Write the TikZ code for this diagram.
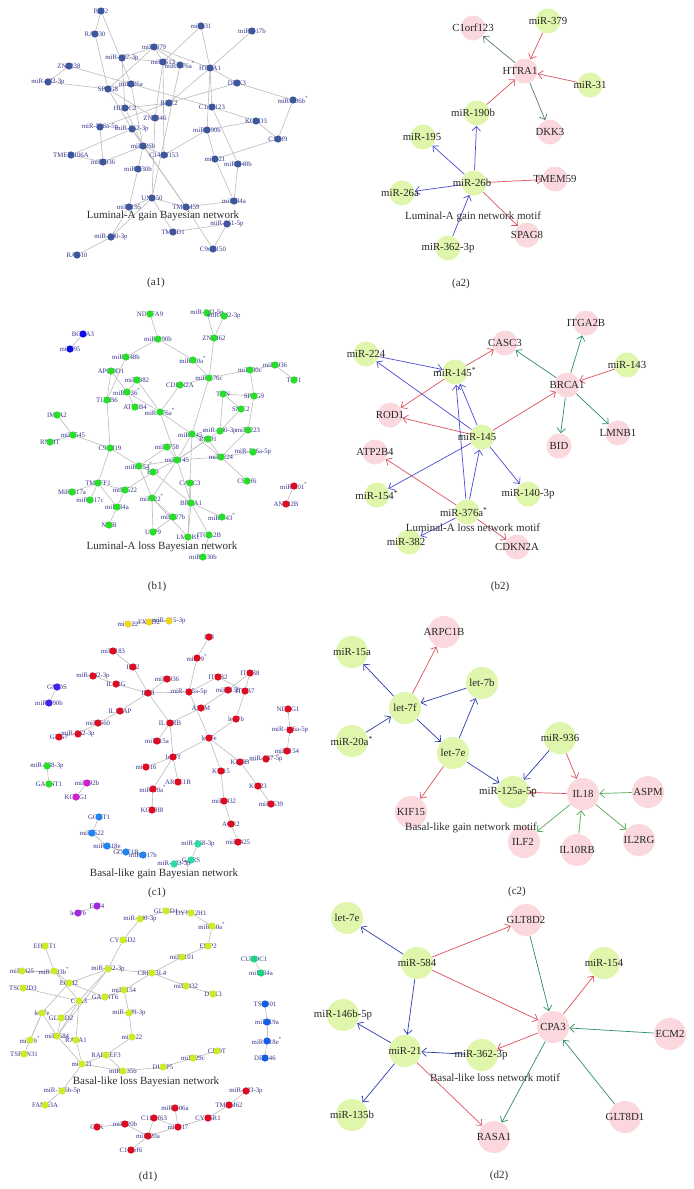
\documentclass[tikz,border=0pt]{standalone}
\usepackage{fontspec}
\setmainfont{Liberation Serif}
\usetikzlibrary{arrows.meta}
\pgfdeclarelayer{paper}
\pgfdeclarelayer{bg}
\pgfsetlayers{paper,bg,main}
\definecolor{edgegray}{RGB}{188,188,188}
\definecolor{labnavy}{RGB}{52,52,140}
\definecolor{steelb}{RGB}{62,86,156}
\definecolor{dgreen}{RGB}{40,222,40}
\definecolor{dblue}{RGB}{12,12,228}
\definecolor{dred}{RGB}{222,12,32}
\definecolor{dyellow}{RGB}{240,212,34}
\definecolor{dviolet}{RGB}{70,32,228}
\definecolor{dmag}{RGB}{212,30,212}
\definecolor{dazure}{RGB}{34,132,240}
\definecolor{dmint}{RGB}{40,222,160}
\definecolor{dyg}{RGB}{204,236,40}
\definecolor{dpurple}{RGB}{164,40,224}
\definecolor{dteal}{RGB}{30,212,132}
\definecolor{dblue2}{RGB}{22,92,230}
\definecolor{mgreen}{RGB}{223,246,172}
\definecolor{mpink}{RGB}{250,216,221}
\definecolor{ablue}{RGB}{76,76,210}
\definecolor{ablue2}{RGB}{44,62,172}
\definecolor{ared}{RGB}{222,82,92}
\definecolor{agray}{RGB}{92,126,112}
\definecolor{agreen}{RGB}{44,142,100}
\definecolor{agreen2}{RGB}{84,170,84}
\tikzset{
  edge/.style={draw=edgegray, line width=0.3pt},
  ltxt/.style={text=labnavy, font=\fontsize{3.4}{3.4}\selectfont, inner sep=0pt},
  dotbase/.style={circle, inner sep=0pt, minimum size=3.6pt},
  dA/.style={dotbase, fill=steelb},
  dG/.style={dotbase, fill=dgreen},
  dB/.style={dotbase, fill=dblue},
  dR/.style={dotbase, fill=dred},
  dY/.style={dotbase, fill=dyellow},
  dV/.style={dotbase, fill=dviolet},
  dM/.style={dotbase, fill=dmag},
  dZ/.style={dotbase, fill=dazure},
  dT/.style={dotbase, fill=dmint},
  dYG/.style={dotbase, fill=dyg},
  dP/.style={dotbase, fill=dpurple},
  dTe/.style={dotbase, fill=dteal},
  dB2/.style={dotbase, fill=dblue2},
  mg/.style={circle, fill=mgreen, inner sep=0pt, minimum size=12.5pt},
  mp/.style={circle, fill=mpink, inner sep=0pt, minimum size=12.5pt},
  mgL/.style={circle, fill=mgreen, inner sep=0pt, minimum size=16pt},
  mpL/.style={circle, fill=mpink, inner sep=0pt, minimum size=16pt},
  mtxt/.style={font=\fontsize{5.4}{5.4}\selectfont, text=black!85, inner sep=0pt},
  ttl/.style={font=\fontsize{5.5}{5.5}\selectfont, text=black!82, inner sep=0pt},
  arr/.style={-{Straight Barb[length=2.3pt,width=4.2pt]}, line width=0.35pt},
  ab/.style={arr, draw=ablue},
  ab2/.style={arr, draw=ablue2},
  ar/.style={arr, draw=ared},
  agy/.style={arr, draw=agray},
  ag/.style={arr, draw=agreen},
  ag2/.style={arr, draw=agreen2},
}
\newcommand\gn[5]{\node[ltxt] (#1t) at (#2,#3) {#5};\node[#4] (#1) at (#2,#3) {};}
\newcommand\mn[6]{\node[#4] (#1) at (#2,#3) {};\node[mtxt] (#1t) at ({#2+#5},#3) {#6};}
\newcommand\st{\textsuperscript{*}}
\begin{document}
\begin{tikzpicture}[x=0.5pt,y=-0.5pt]
\useasboundingbox (0,0) rectangle (693,1189);
\begin{pgfonlayer}{paper}
\fill[white] (0,0) rectangle (693,1189);
\end{pgfonlayer}
% ================= a1 =================
\gn{a1bri2}{101}{11}{dA}{BRI2}
\gn{a1rab80}{95}{34}{dA}{RAB30}
\gn{a1m31}{201}{26}{dA}{miR-31}
\gn{a1m517b}{252}{31}{dA}{miR-517b}
\gn{a1m379}{154}{47}{dA}{miR-379}
\gn{a1m127}{122}{58}{dA}{miR-127-3p}
\gn{a1m513}{163}{62}{dA}{miR-513}
\gn{a1m376a}{180}{65}{dA}{miR-376a\st}
\gn{a1htra1}{210}{68}{dA}{HTRA1}
\gn{a1znf238}{69}{66}{dA}{ZNF238}
\gn{a1m133}{48}{82}{dA}{miR-433-3p}
\gn{a1spag8}{108}{89}{dA}{SPAG8}
\gn{a1m26a}{131}{84}{dA}{miR-26a}
\gn{a1dkk3}{237}{83}{dA}{DKK3}
\gn{a1m106b}{293}{100}{dA}{miR-106b\st}
\gn{a1bnc2}{169}{103}{dA}{BNC2}
\gn{a1c1orf123}{212}{107}{dA}{C1orf123}
\gn{a1hdac2}{125}{108}{dA}{HDAC2}
\gn{a1znf346}{155}{118}{dA}{ZNF346}
\gn{a1kctd3}{256}{121}{dA}{KCTD3}
\gn{a1m516}{100}{127}{dA}{miR-516a-5p}
\gn{a1m362}{132}{129}{dA}{miR-362-3p}
\gn{a1m190b}{207}{130}{dA}{miR-190b}
\gn{a1c1orf9}{278}{139}{dA}{C1orf9}
\gn{a1m26b}{143}{146}{dA}{miR-26b}
\gn{a1tmem106a}{71}{155}{dA}{TMEM106A}
\gn{a1m936}{103}{162}{dA}{miR-936}
\gn{a1c16orf53}{164}{155}{dA}{C14orf153}
\gn{a1m21}{215}{159}{dA}{miR-21}
\gn{a1m148b}{238}{164}{dA}{miR-148b}
\gn{a1m130b}{138}{169}{dA}{miR-130b}
\gn{a1unc50}{152}{198}{dA}{UNC50}
\gn{a1m195}{129}{207}{dA}{miR-195}
\gn{a1tmem59}{186}{207}{dA}{TMEM59}
\gn{a1m34a}{234}{201}{dA}{miR-34a}
\gn{a1m361}{227}{224}{dA}{miR-361-5p}
\gn{a1tmod1}{173}{232}{dA}{TMOD1}
\gn{a1m200}{111}{237}{dA}{miR-200-3p}
\gn{a1rab10}{77}{255}{dA}{RAB10}
\gn{a1c9orf150}{213}{249}{dA}{C9orf150}
\begin{pgfonlayer}{bg}
\foreach \u/\v in {a1bri2/a1rab80, a1bri2/a1m26a, a1rab80/a1spag8, a1m31/a1m513, a1m31/a1htra1, a1m517b/a1htra1, a1m379/a1htra1, a1m379/a1spag8, a1m379/a1m513, a1m379/a1m376a, a1m379/a1m127, a1m127/a1m513, a1m127/a1hdac2, a1znf238/a1m26a, a1znf238/a1m133, a1m133/a1spag8, a1m26a/a1c1orf123, a1htra1/a1dkk3, a1htra1/a1c1orf123, a1htra1/a1m190b, a1htra1/a1bnc2, a1dkk3/a1bnc2, a1dkk3/a1m106b, a1m106b/a1c1orf9, a1kctd3/a1c1orf9, a1kctd3/a1c1orf123, a1kctd3/a1m190b, a1c1orf9/a1m21, a1spag8/a1m26a, a1spag8/a1znf346, a1spag8/a1m362, a1m26a/a1m26b, a1hdac2/a1bnc2, a1hdac2/a1m26b, a1m513/a1znf346, a1m513/a1c16orf53, a1m376a/a1unc50, a1m516/a1bnc2, a1m516/a1m936, a1m362/a1m26b, a1m362/a1tmem59, a1m190b/a1c16orf53, a1m190b/a1m21, a1tmem106a/a1m362, a1tmem106a/a1m936, a1m936/a1m26b, a1m26b/a1c16orf53, a1m26b/a1m130b, a1m26b/a1tmem59, a1m130b/a1m195, a1unc50/a1tmem59, a1unc50/a1tmod1, a1unc50/a1m195, a1m195/a1m200, a1m200/a1rab10, a1m200/a1unc50, a1m21/a1m34a, a1m148b/a1m34a, a1tmem59/a1m34a, a1tmem59/a1c9orf150, a1tmod1/a1m361, a1m361/a1c9orf150, a1c1orf123/a1m148b, a1znf346/a1unc50}
  \draw[edge] (\u) -- (\v);
\end{pgfonlayer}
\node[ttl] (a1title) at (163,216) {Luminal-A gain Bayesian network};
\node[ttl] (a1lab) at (156,283) {(a1)};
% ================= a2 =================
\mn{a2c1orf}{473}{28}{mp}{0}{C1orf123}
\mn{a2m379}{548}{21}{mg}{0}{miR-379}
\mn{a2htra1}{525}{71}{mp}{-5}{HTRA1}
\mn{a2m31}{590}{85}{mg}{0}{miR-31}
\mn{a2m190b}{477}{113}{mg}{-4}{miR-190b}
\mn{a2dkk3}{550}{132}{mp}{0}{DKK3}
\mn{a2m195}{423}{137}{mg}{-1}{miR-195}
\mn{a2m26b}{474}{183}{mg}{-2}{miR-26b}
\mn{a2tmem59}{555}{179}{mp}{0}{TMEM59}
\mn{a2m26a}{402}{193}{mg}{-2}{miR-26a}
\mn{a2spag8}{527}{235}{mp}{0}{SPAG8}
\mn{a2m362}{448}{248}{mg}{0}{miR-362-3p}
\begin{pgfonlayer}{bg}
\draw[agy] (a2htra1) -- (a2c1orf);
\draw[ar] (a2m379) -- (a2htra1);
\draw[ar] (a2m31) -- (a2htra1);
\draw[ar] (a2m190b) -- (a2htra1);
\draw[agy] (a2htra1) -- (a2dkk3);
\draw[ab] (a2m26b) -- (a2m190b);
\draw[ab] (a2m26b) -- (a2m195);
\draw[ab] (a2m26b) -- (a2m26a);
\draw[ab] (a2m362) -- (a2m26b);
\draw[ar] (a2m26b) -- (a2tmem59);
\draw[ar] (a2m26b) -- (a2spag8);
\end{pgfonlayer}
\node[ttl] (a2title) at (473,217) {Luminal-A gain network motif};
\node[ttl] (a2lab) at (461,284) {(a2)};
% ================= b1 =================
\gn{b1ndufa9}{150}{314}{dG}{NDUFA9}
\gn{b1m342a}{207}{313}{dG}{miR-342-5p}
\gn{b1m342b}{224}{316}{dG}{miR-342-3p}
\gn{b1bcaa3}{83}{334}{dB}{BCAA3}
\gn{b1m95}{70}{349}{dB}{miR-95}
\gn{b1m190b}{158}{339}{dG}{miR-190b}
\gn{b1znf462}{214}{338}{dG}{ZNF462}
\gn{b1m148b}{126}{357}{dG}{miR-148b}
\gn{b1m20a}{193}{360}{dG}{miR-20a\st}
\gn{b1apcdd1}{111}{371}{dG}{APCDD1}
\gn{b1m30c}{250}{370}{dG}{miR-30c}
\gn{b1m936}{275}{365}{dG}{miR-936}
\gn{b1tff1}{294}{380}{dG}{TFF1}
\gn{b1m382}{137}{380}{dG}{miR-382}
\gn{b1cdkn2a}{180}{385}{dG}{CDKN2A}
\gn{b1m376c}{209}{378}{dG}{miR-376c}
\gn{b1m136}{127}{392}{dG}{miR-136\st}
\gn{b1tubb6}{107}{400}{dG}{TUBB6}
\gn{b1txn}{223}{394}{dG}{TXN}
\gn{b1spag9}{254}{396}{dG}{SPAG9}
\gn{b1atp2b4}{135}{407}{dG}{ATP2B4}
\gn{b1m376a}{160}{412}{dG}{miR-376a\st}
\gn{b1smc2}{241}{409}{dG}{SMC2}
\gn{b1impa2}{57}{415}{dG}{IMPA2}
\gn{b1m545}{73}{435}{dG}{miR-545}
\gn{b1m145s}{192}{434}{dG}{miR-145\st}
\gn{b1m140}{220}{431}{dG}{miR-140-3p}
\gn{b1m223}{248}{430}{dG}{miR-223}
\gn{b1rnmt}{50}{442}{dG}{RNMT}
\gn{b1c9orf19}{110}{448}{dG}{C9orf19}
\gn{b1m758}{167}{447}{dG}{miR-758}
\gn{b1rod1}{208}{439}{dG}{ROD1}
\gn{b1m516}{253}{452}{dG}{miR-516a-5p}
\gn{b1m224}{221}{457}{dG}{miR-224}
\gn{b1m145}{177}{460}{dG}{miR-145}
\gn{b1m154}{139}{466}{dG}{miR-154\st}
\gn{b1bid}{153}{472}{dG}{BID}
\gn{b1c9orf6}{247}{481}{dG}{C9orf6}
\gn{b1casc3}{190}{483}{dG}{CASC3}
\gn{b1tmeff1}{98}{483}{dG}{TMEFF1}
\gn{b1m301}{294}{486}{dR}{miR-301\st}
\gn{b1anp32b}{286}{504}{dR}{ANP32B}
\gn{b1m522}{125}{490}{dG}{miR-522}
\gn{b1m517a}{72}{492}{dG}{MiR-517a}
\gn{b1m517c}{90}{500}{dG}{miR-517c}
\gn{b1m22}{152}{498}{dG}{miR-22\st}
\gn{b1brca1}{191}{503}{dG}{BRCA1}
\gn{b1m34a}{117}{507}{dG}{miR-34a}
\gn{b1m27b}{173}{517}{dG}{miR-27b}
\gn{b1m143}{222}{517}{dG}{miR-143\st}
\gn{b1nfib}{109}{525}{dG}{NFIB}
\gn{b1usp9}{153}{532}{dG}{USP9}
\gn{b1lmnb1}{188}{537}{dG}{LMNB1}
\gn{b1itga2b}{209}{535}{dG}{ITGA2B}
\gn{b1m130b}{203}{557}{dG}{miR-130b}
\begin{pgfonlayer}{bg}
\foreach \u/\v in {b1bcaa3/b1m95, b1ndufa9/b1m190b, b1m190b/b1m148b, b1m190b/b1m20a, b1m20a/b1m376c, b1m342a/b1znf462, b1m342b/b1znf462, b1znf462/b1m376c, b1m376c/b1m30c, b1m30c/b1m936, b1m936/b1tff1, b1m30c/b1spag9, b1m376c/b1cdkn2a, b1m376c/b1m145s, b1m148b/b1tubb6, b1apcdd1/b1m136, b1m382/b1m136, b1m382/b1m376a, b1m136/b1atp2b4, b1m136/b1m376a, b1cdkn2a/b1m376a, b1txn/b1spag9, b1txn/b1smc2, b1txn/b1m140, b1smc2/b1m140, b1spag9/b1m223, b1m376a/b1m145s, b1m376a/b1m145, b1tubb6/b1c9orf19, b1impa2/b1m545, b1m545/b1rnmt, b1m545/b1c9orf19, b1c9orf19/b1m154, b1c9orf19/b1tmeff1, b1m145s/b1m145, b1m145s/b1rod1, b1m145s/b1casc3, b1m145s/b1m224, b1m140/b1m145, b1m223/b1m224, b1m224/b1rod1, b1m224/b1m516, b1m224/b1c9orf6, b1m145/b1m758, b1m145/b1rod1, b1m145/b1m224, b1m145/b1bid, b1m145/b1brca1, b1m145/b1m154, b1m145/b1m22, b1m758/b1m154, b1bid/b1m522, b1bid/b1m154, b1casc3/b1brca1, b1brca1/b1m143, b1brca1/b1lmnb1, b1brca1/b1itga2b, b1bid/b1brca1, b1tmeff1/b1m517a, b1tmeff1/b1m517c, b1tmeff1/b1m34a, b1tmeff1/b1m522, b1m522/b1m34a, b1m34a/b1nfib, b1m22/b1m27b, b1m22/b1usp9, b1m22/b1lmnb1, b1m27b/b1usp9, b1m154/b1m22, b1itga2b/b1m130b, b1m301/b1anp32b, b1casc3/b1lmnb1, b1apcdd1/b1tubb6}
  \draw[edge] (\u) -- (\v);
\end{pgfonlayer}
\node[ttl] (b1title) at (162,547) {Luminal-A loss Bayesian network};
\node[ttl] (b1lab) at (157,587) {(b1)};
% ================= b2 =================
\mn{b2m224}{366}{354}{mg}{0}{miR-224}
\mn{b2casc3}{505}{343}{mp}{0}{CASC3}
\mn{b2itga2b}{586}{323}{mp}{0}{ITGA2B}
\mn{b2m145s}{455}{372}{mg}{0}{miR-145\st}
\mn{b2m143}{627}{365}{mg}{0}{miR-143}
\mn{b2brca1}{567}{385}{mp}{0}{BRCA1}
\mn{b2rod1}{390}{415}{mp}{0}{ROD1}
\mn{b2m145}{482}{437}{mg}{-5}{miR-145}
\mn{b2bid}{559}{446}{mp}{0}{BID}
\mn{b2lmnb1}{618}{433}{mp}{0}{LMNB1}
\mn{b2atp2b4}{375}{452}{mp}{0}{ATP2B4}
\mn{b2m154}{377}{495}{mg}{0}{miR-154\st}
\mn{b2m140}{528}{494}{mg}{0}{miR-140-3p}
\mn{b2m376a}{467}{512}{mg}{-3}{miR-376a\st}
\mn{b2m382}{409}{542}{mg}{-3}{miR-382}
\mn{b2cdkn2a}{517}{547}{mp}{0}{CDKN2A}
\begin{pgfonlayer}{bg}
\draw[ab] (b2m224) -- (b2m145s);
\draw[ab] (b2m145) -- (b2m224);
\draw[ar] (b2m145s) -- (b2casc3);
\draw[ar] (b2m145s) -- (b2rod1);
\draw[ar] (b2m145) -- (b2rod1);
\draw[ab] (b2m145) -- (b2m145s);
\draw[ab] (b2m376a) -- (b2m145s);
\draw[ab] (b2m376a) -- (b2m145);
\draw[ar] (b2m145) -- (b2brca1);
\draw[ag] (b2brca1) -- (b2casc3);
\draw[ag] (b2brca1) -- (b2itga2b);
\draw[ar] (b2m143) -- (b2brca1);
\draw[ag] (b2brca1) -- (b2bid);
\draw[ag] (b2brca1) -- (b2lmnb1);
\draw[ar] (b2m376a) -- (b2atp2b4);
\draw[ab] (b2m145) -- (b2m154);
\draw[ab] (b2m145) -- (b2m140);
\draw[ab] (b2m376a) -- (b2m382);
\draw[ar] (b2m376a) -- (b2cdkn2a);
\end{pgfonlayer}
\node[ttl] (b2title) at (473,528) {Luminal-A loss network motif};
\node[ttl] (b2lab) at (500,587) {(b2)};
% ================= c1 =================
\gn{c1m22}{128}{624}{dY}{miR-22}
\gn{c1fxyd2}{149}{622}{dY}{FXYD2}
\gn{c1m615}{169}{621}{dY}{miR-615-3p}
\gn{c1il8}{209}{637}{dR}{IL8}
\gn{c1m183}{113}{651}{dR}{miR-183}
\gn{c1m9}{197}{658}{dR}{miR-9\st}
\gn{c1il32}{133}{667}{dR}{IL32}
\gn{c1m342}{93}{676}{dR}{miR-342-3p}
\gn{c1itgb2}{218}{677}{dR}{ITGB2}
\gn{c1itgb8}{250}{673}{dR}{ITGB8}
\gn{c1m936}{167}{679}{dR}{miR-936}
\gn{c1il2rg}{116}{684}{dR}{IL2RG}
\gn{c1gmds}{57}{687}{dV}{GMDS}
\gn{c1il18}{148}{693}{dR}{IL18}
\gn{c1m125}{189}{692}{dR}{miR-125a-5p}
\gn{c1m15b}{228}{690}{dR}{miR-15b}
\gn{c1itgb7}{245}{691}{dR}{ITGB7}
\gn{c1m190b}{49}{703}{dV}{miR-190b}
\gn{c1il1rap}{120}{711}{dR}{IL1RAP}
\gn{c1aspm}{201}{708}{dR}{ASPM}
\gn{c1ndrg1}{288}{709}{dR}{NDRG1}
\gn{c1let7b}{236}{719}{dR}{let-7b}
\gn{c1il10rb}{170}{723}{dR}{IL10RB}
\gn{c1m660}{98}{723}{dR}{miR-660}
\gn{c1m362}{78}{734}{dR}{miR-362-3p}
\gn{c1gng7}{59}{737}{dR}{GNG7}
\gn{c1m146}{290}{730}{dR}{miR-146a-5p}
\gn{c1let7e}{209}{738}{dR}{let-7e}
\gn{c1m15a}{157}{741}{dR}{miR-15a}
\gn{c1m154}{287}{751}{dR}{miR-154}
\gn{c1let7f}{173}{757}{dR}{let-7f}
\gn{c1kif3b}{240}{762}{dR}{KIF3B}
\gn{c1m337}{266}{759}{dR}{miR-337-5p}
\gn{c1m16}{146}{767}{dR}{miR-16}
\gn{c1kif15}{221}{771}{dR}{KIF15}
\gn{c1arpc1b}{178}{782}{dR}{ARPC1B}
\gn{c1kif23}{258}{786}{dR}{KIF23}
\gn{c1m20a}{153}{789}{dR}{miR-20a\st}
\gn{c1m432}{224}{801}{dR}{miR-432}
\gn{c1m539}{271}{804}{dR}{miR-539}
\gn{c1kcnh8}{152}{810}{dR}{KCNH8}
\gn{c1agr2}{231}{824}{dR}{AGR2}
\gn{c1m425}{238}{842}{dR}{miR-425}
\gn{c1m338}{47}{766}{dG}{miR-338-3p}
\gn{c1galnt1}{49}{784}{dG}{GALNT1}
\gn{c1m92b}{87}{783}{dM}{miR-92b}
\gn{c1kcng1}{76}{797}{dM}{KCNG1}
\gn{c1gcnt1}{99}{817}{dZ}{GCNT1}
\gn{c1m522}{92}{833}{dZ}{miR-522}
\gn{c1m518}{107}{846}{dZ}{miR-518e}
\gn{c1golt1b}{126}{852}{dZ}{GOLT1B}
\gn{c1m517b}{143}{855}{dZ}{miR-517b}
\gn{c1m768}{198}{844}{dT}{miR-768-3p}
\gn{c1gars}{191}{860}{dT}{GARS}
\gn{c1m483}{174}{864}{dT}{miR-483-3p}
\begin{pgfonlayer}{bg}
\foreach \u/\v in {c1m22/c1fxyd2, c1fxyd2/c1m615, c1il8/c1m9, c1m9/c1m125, c1m183/c1il32, c1il32/c1il18, c1m342/c1il2rg, c1il2rg/c1il18, c1gmds/c1m190b, c1il18/c1m936, c1il18/c1m125, c1il18/c1il10rb, c1il18/c1il1rap, c1il1rap/c1m660, c1m660/c1m362, c1m362/c1gng7, c1m125/c1itgb2, c1itgb2/c1itgb7, c1itgb8/c1itgb7, c1itgb8/c1m15b, c1m15b/c1aspm, c1m125/c1let7e, c1itgb7/c1let7b, c1let7b/c1let7e, c1il10rb/c1m15a, c1il10rb/c1let7f, c1aspm/c1il10rb, c1ndrg1/c1m146, c1m146/c1m154, c1let7e/c1let7f, c1let7e/c1kif15, c1let7e/c1kif3b, c1let7f/c1m16, c1let7f/c1arpc1b, c1let7f/c1m20a, c1m20a/c1kcnh8, c1kif3b/c1m337, c1m337/c1m154, c1kif3b/c1kif23, c1kif23/c1m539, c1kif15/c1m432, c1m432/c1agr2, c1agr2/c1m425, c1m338/c1galnt1, c1m92b/c1kcng1, c1gcnt1/c1m522, c1m522/c1m518, c1m518/c1golt1b, c1golt1b/c1m517b, c1m768/c1gars, c1gars/c1m483}
  \draw[edge] (\u) -- (\v);
\end{pgfonlayer}
\node[ttl] (c1title) at (164,874) {Basal-like gain Bayesian network};
\node[ttl] (c1lab) at (157,893) {(c1)};
% ================= c2 =================
\mn{c2m15a}{352}{652}{mgL}{0}{miR-15a}
\mn{c2arpc1b}{444}{632}{mpL}{0}{ARPC1B}
\mn{c2let7b}{482}{683}{mgL}{0}{let-7b}
\mn{c2let7f}{405}{708}{mgL}{0}{let-7f}
\mn{c2m20a}{352}{741}{mgL}{0}{miR-20a\st}
\mn{c2let7e}{453}{753}{mgL}{0}{let-7e}
\mn{c2m936}{560}{738}{mgL}{0}{miR-936}
\mn{c2m125}{513}{792}{mgL}{-5}{miR-125a-5p}
\mn{c2il18}{583}{794}{mpL}{0}{IL18}
\mn{c2aspm}{648}{792}{mpL}{0}{ASPM}
\mn{c2kif15}{411}{812}{mpL}{0}{KIF15}
\mn{c2ilf2}{524}{842}{mpL}{-1}{ILF2}
\mn{c2il10rb}{577}{850}{mpL}{0}{IL10RB}
\mn{c2il2rg}{639}{840}{mpL}{0}{IL2RG}
\begin{pgfonlayer}{bg}
\draw[ab2] (c2let7f) -- (c2m15a);
\draw[ab2] (c2m20a) -- (c2let7f);
\draw[ar] (c2let7f) -- (c2arpc1b);
\draw[ab2] (c2let7b) -- (c2let7f);
\draw[ab2] (c2let7f) -- (c2let7e);
\draw[ab2] (c2let7e) -- (c2let7b);
\draw[ar] (c2let7e) -- (c2kif15);
\draw[ab2] (c2let7e) -- (c2m125);
\draw[ab2] (c2m936) -- (c2m125);
\draw[ar] (c2m936) -- (c2il18);
\draw[ar] (c2il18) -- (c2m125);
\draw[ag2] (c2aspm) -- (c2il18);
\draw[ag2] (c2il18) -- (c2ilf2);
\draw[ag2] (c2il10rb) -- (c2il18);
\draw[ag2] (c2il18) -- (c2il2rg);
\end{pgfonlayer}
\node[ttl] (c2title) at (471,828) {Basal-like gain network motif};
\node[ttl] (c2lab) at (517,892) {(c2)};
% ================= d1 =================
\gn{d1e2f4}{97}{906}{dP}{E2F4}
\gn{d1let7b}{78}{913}{dP}{let-7b}
\gn{d1glt8d1}{166}{911}{dYG}{GLT8D1}
\gn{d1dync}{191}{913}{dYG}{DYNC2H1}
\gn{d1m140}{140}{919}{dYG}{miR-140-3p}
\gn{d1m30a}{212}{926}{dYG}{miR-30a\st}
\gn{d1cyb5d2}{123}{940}{dYG}{CYB5D2}
\gn{d1ehmt1}{45}{946}{dYG}{EHMT1}
\gn{d1emp2}{208}{946}{dYG}{EMP2}
\gn{d1m101}{182}{957}{dYG}{miR-101}
\gn{d1m193}{54}{971}{dYG}{miR-193b\st}
\gn{d1m425}{22}{971}{dYG}{miR-425}
\gn{d1m362}{108}{969}{dYG}{miR-362-3p}
\gn{d1creb}{152}{973}{dYG}{CREB3L4}
\gn{d1ecm2}{69}{983}{dYG}{ECM2}
\gn{d1m432}{186}{986}{dYG}{miR-432}
\gn{d1tsc22}{23}{988}{dYG}{TSC22D3}
\gn{d1dtx3}{213}{994}{dYG}{DTX3}
\gn{d1m154}{124}{990}{dYG}{miR-154}
\gn{d1galnt6}{105}{997}{dYG}{GALNT6}
\gn{d1cpa3}{79}{1001}{dYG}{CPA3}
\gn{d1let7e}{42}{1013}{dYG}{let-7e}
\gn{d1m409}{129}{1013}{dYG}{miR-409-3p}
\gn{d1glt8d2}{61}{1018}{dYG}{GLT8D2}
\gn{d1m584}{57}{1036}{dYG}{miR-584}
\gn{d1m22}{132}{1037}{dYG}{miR-22}
\gn{d1m9}{30}{1040}{dYG}{miR-9\st}
\gn{d1rasa1}{76}{1040}{dYG}{RASA1}
\gn{d1tspan31}{24}{1054}{dYG}{TSPAN31}
\gn{d1rapgef3}{106}{1055}{dYG}{RAPGEF3}
\gn{d1m21}{82}{1064}{dYG}{miR-21}
\gn{d1m135b}{123}{1071}{dYG}{miR-135b}
\gn{d1dusp5}{163}{1067}{dYG}{DUSP5}
\gn{d1m29c}{193}{1058}{dYG}{miR-29c}
\gn{d1crot}{217}{1051}{dYG}{CROT}
\gn{d1m146b}{62}{1091}{dYG}{miR-146b-5p}
\gn{d1fam63a}{45}{1105}{dYG}{FAM63A}
\gn{d1cuedc1}{254}{959}{dTe}{CUEDC1}
\gn{d1m34a}{261}{973}{dTe}{miR-34a}
\gn{d1tsc001}{265}{1004}{dB2}{TSC001}
\gn{d1m19a}{267}{1022}{dB2}{miR-19a}
\gn{d1m518e}{267}{1041}{dB2}{miR-518e\st}
\gn{d1ddx46}{265}{1058}{dB2}{DDX46}
\gn{d1m483}{246}{1091}{dR}{miR-483-3p}
\gn{d1tmem62}{229}{1105}{dR}{TMEM62}
\gn{d1m106a}{175}{1108}{dR}{miR-106a}
\gn{d1c11orf63}{154}{1118}{dR}{C11orf63}
\gn{d1cyb5r1}{208}{1118}{dR}{CYB5R1}
\gn{d1csk}{97}{1127}{dR}{CSK}
\gn{d1m20b}{125}{1124}{dR}{miR-20b}
\gn{d1m17}{178}{1127}{dR}{miR-17}
\gn{d1m20a}{148}{1136}{dR}{miR-20a}
\gn{d1c10orf6}{131}{1150}{dR}{C10orf6}
\begin{pgfonlayer}{bg}
\foreach \u/\v in {d1let7b/d1e2f4, d1glt8d1/d1dync, d1glt8d1/d1m140, d1dync/d1m30a, d1m30a/d1emp2, d1emp2/d1m101, d1m101/d1creb, d1creb/d1m432, d1m432/d1dtx3, d1creb/d1m362, d1creb/d1m154, d1m140/d1cyb5d2, d1cyb5d2/d1m362, d1ehmt1/d1m193, d1m425/d1m193, d1m193/d1ecm2, d1m193/d1cpa3, d1ecm2/d1m362, d1ecm2/d1galnt6, d1ecm2/d1let7e, d1m362/d1cpa3, d1m362/d1m584, d1tsc22/d1cpa3, d1m154/d1galnt6, d1m154/d1m409, d1galnt6/d1cpa3, d1cpa3/d1glt8d2, d1cpa3/d1m584, d1cpa3/d1rasa1, d1m409/d1m22, d1m22/d1rapgef3, d1let7e/d1m584, d1let7e/d1m9, d1let7e/d1tspan31, d1glt8d2/d1m584, d1m584/d1rasa1, d1m584/d1m21, d1rasa1/d1m21, d1rapgef3/d1m21, d1rapgef3/d1m135b, d1m21/d1m135b, d1m21/d1m146b, d1m146b/d1fam63a, d1m135b/d1dusp5, d1dusp5/d1m29c, d1m29c/d1crot, d1cuedc1/d1m34a, d1tsc001/d1m19a, d1m19a/d1m518e, d1m518e/d1ddx46, d1m483/d1tmem62, d1tmem62/d1cyb5r1, d1cyb5r1/d1m17, d1m17/d1m106a, d1c11orf63/d1m20a, d1c11orf63/d1m17, d1m20a/d1m17, d1m20a/d1m20b, d1m20b/d1csk, d1m20a/d1c10orf6}
  \draw[edge] (\u) -- (\v);
\end{pgfonlayer}
\node[ttl] (d1title) at (146,1082) {Basal-like loss Bayesian network};
\node[ttl] (d1lab) at (148,1177) {(d1)};
% ================= d2 =================
\mn{d2let7e}{347}{918}{mgL}{0}{let-7e}
\mn{d2glt8d2}{526}{920}{mpL}{0}{GLT8D2}
\mn{d2m584}{417}{963}{mgL}{0}{miR-584}
\mn{d2m154}{604}{963}{mgL}{0}{miR-154}
\mn{d2cpa3}{553}{1027}{mpL}{0}{CPA3}
\mn{d2ecm2}{670}{1034}{mpL}{0}{ECM2}
\mn{d2m146b}{343}{1015}{mgL}{0}{miR-146b-5p}
\mn{d2m21}{405}{1051}{mgL}{0}{miR-21}
\mn{d2m362}{482}{1055}{mgL}{-1}{miR-362-3p}
\mn{d2glt8d1}{625}{1117}{mpL}{0}{GLT8D1}
\mn{d2rasa1}{494}{1137}{mpL}{0}{RASA1}
\mn{d2m135b}{352}{1115}{mgL}{0}{miR-135b}
\begin{pgfonlayer}{bg}
\draw[ab2] (d2m584) -- (d2let7e);
\draw[ar] (d2m584) -- (d2glt8d2);
\draw[ar] (d2m584) -- (d2cpa3);
\draw[ab2] (d2m584) -- (d2m21);
\draw[ag] (d2glt8d2) -- (d2cpa3);
\draw[ar] (d2cpa3) -- (d2m154);
\draw[ag] (d2ecm2) -- (d2cpa3);
\draw[ag] (d2glt8d1) -- (d2cpa3);
\draw[ar] (d2cpa3) -- (d2m362);
\draw[ag] (d2cpa3) -- (d2rasa1);
\draw[ab2] (d2m362) -- (d2m21);
\draw[ar] (d2m21) -- (d2rasa1);
\draw[ab2] (d2m21) -- (d2m146b);
\draw[ab2] (d2m21) -- (d2m135b);
\end{pgfonlayer}
\node[ttl] (d2title) at (495,1078) {Basal-like loss network motif};
\node[ttl] (d2lab) at (499,1176) {(d2)};
\end{tikzpicture}
\end{document}
